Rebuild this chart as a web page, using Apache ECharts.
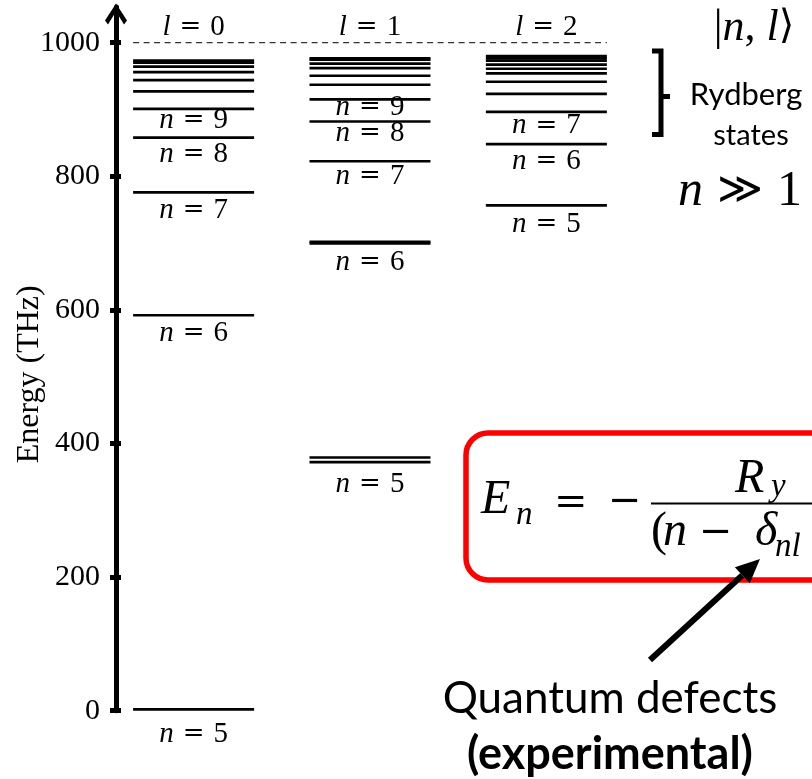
<!DOCTYPE html>
<html>
<head>
<meta charset="utf-8">
<script src="https://cdn.jsdelivr.net/npm/echarts@6/dist/echarts.min.js"></script>
<style>
  html, body { margin: 0; padding: 0; background: #fff; }
  #chart { width: 812px; height: 779px; }
</style>
</head>
<body>
<div id="chart"></div>
<script>
// Rubidium energy levels (THz above the 5s ground state), one column per orbital number l.
const tickValues = [0, 200, 400, 600, 800, 1000];
const orbitals = [0, 1, 2];
const ionizationLimit = 1000;

// l = 0 (s states)
const sN = [5, 6, 7, 8, 9, 10, 11, 12, 13, 14, 15];
const sEnergy = [2, 592, 776, 858, 901, 927, 944, 956, 964, 970, 973];
// l = 1 (p states, fine-structure doublets for n = 5 and 6)
const pN = [5, 5, 6, 6, 7, 8, 9, 10, 11, 12, 13, 14, 15];
const pEnergy = [372, 379, 699.5, 702, 822.5, 882, 915, 937, 950.5, 962, 968.5, 974.5, 976.5];
// l = 2 (d states)
const dN = [5, 6, 7, 8, 9, 10, 11, 12, 13, 14, 15];
const dEnergy = [756.5, 848, 896.5, 923.5, 941.5, 954, 961, 967, 973, 976.5, 980];

// principal quantum numbers that get an "n = ..." label in each column
const labelledN = [[5, 6, 7, 8, 9], [5, 6, 7, 8, 9], [5, 6, 7]];

// ---- layout ----
const LEVEL_HALF = 0.343;          // half width of a level bar, in column units
const SERIF = 'Liberation Serif, DejaVu Serif, serif';
const OPS = 'DejaVu Serif, serif';
const SANS = 'Lato, Noto Sans, sans-serif';
// vertical gap (px) between a level bar and the centre of its label
const labelDrop = {
  '0-5': 25, '0-6': 18.5, '0-7': 17.7, '0-8': 16.7, '0-9': 11.3,
  '1-5': 22, '1-6': 18.6, '1-7': 15.4, '1-8': 12, '1-9': 8,
  '2-5': 18.7, '2-6': 17.4, '2-7': 14
};

const columns = [
  { l: 0, n: sN, e: sEnergy },
  { l: 1, n: pN, e: pEnergy },
  { l: 2, n: dN, e: dEnergy }
];

const levelData = [];
const labelData = [];
columns.forEach(function (col, ci) {
  col.e.forEach(function (e, i) { levelData.push([col.l, e, col.n[i]]); });
  labelledN[ci].forEach(function (n) {
    let lowest = Infinity;
    col.n.forEach(function (k, i) { if (k === n) lowest = Math.min(lowest, col.e[i]); });
    labelData.push([col.l, lowest, n]);
  });
});

const chevron = 'path://M11,0 L22,17 L19,21 L11,8 L3,21 L0,17 Z';

// "symbol = value" with an italic symbol and a wide equals sign
const eqRich = function (size) {
  return {
    it: { fontStyle: 'italic', fontFamily: SERIF, fontSize: size, color: '#000' },
    eq: { fontFamily: OPS, fontSize: size - 3, color: '#000', padding: [0, 9, 0, 9] },
    v: { fontFamily: SERIF, fontSize: size, color: '#000' }
  };
};

function renderLevel(params, api) {
  const x = api.value(0), e = api.value(1);
  const a = api.coord([x - LEVEL_HALF, e]);
  const b = api.coord([x + LEVEL_HALF, e]);
  return {
    type: 'line',
    shape: { x1: a[0], y1: a[1], x2: b[0], y2: b[1] },
    style: { stroke: '#000', lineWidth: 2.7 }
  };
}

function renderLabel(params, api) {
  const x = api.value(0), e = api.value(1), n = api.value(2);
  const p = api.coord([x, e]);
  const drop = labelDrop[x + '-' + n] || 16;
  return {
    type: 'text',
    x: p[0],
    y: p[1] + drop,
    style: {
      text: '{it|n}{eq|=}{v|' + n + '}',
      rich: eqRich(29),
      fontFamily: SERIF, fontSize: 29, fill: '#000',
      align: 'center', textAlign: 'center',
      verticalAlign: 'middle', textVerticalAlign: 'middle'
    }
  };
}

function piece(str, x, y, size, family, italic) {
  return {
    type: 'text', x: x, y: y, z: 10,
    style: {
      text: str, fontFamily: family, fontSize: size,
      fontStyle: italic ? 'italic' : 'normal', fill: '#000',
      align: 'left', textAlign: 'left',
      verticalAlign: 'middle', textVerticalAlign: 'middle'
    }
  };
}
// letters placed by their baseline
function mathPiece(str, x, baseline, size, italic) {
  return piece(str, x, baseline - 0.305 * size, size, SERIF, italic);
}
// operators placed by their centre line
function opPiece(str, x, centre, size) {
  return piece(str, x, centre - 1, size, OPS, false);
}

function plainText(str, x, y, size, family, opts) {
  return {
    type: 'text', x: x, y: y, z: 10,
    style: Object.assign({
      text: str, fontFamily: family, fontSize: size, fill: '#000',
      align: 'center', textAlign: 'center',
      verticalAlign: 'middle', textVerticalAlign: 'middle'
    }, opts || {})
  };
}

// arrow pointing at the quantum defect in the formula
function pointer(x0, y0, x1, y1, width, headLen, headHalf) {
  const dx = x1 - x0, dy = y1 - y0, len = Math.hypot(dx, dy);
  const ux = dx / len, uy = dy / len, px = -uy, py = ux;
  const bx = x1 - ux * headLen, by = y1 - uy * headLen;
  return [
    { type: 'line', z: 10, shape: { x1: x0, y1: y0, x2: bx, y2: by },
      style: { stroke: '#000', lineWidth: width } },
    { type: 'polygon', z: 10,
      shape: { points: [[x1, y1], [bx + px * headHalf, by + py * headHalf], [bx - px * headHalf, by - py * headHalf]] },
      style: { fill: '#000' } }
  ];
}

const annotations = [
  // Rydberg bracket
  { type: 'polyline', z: 10, shape: { points: [[652, 51], [661, 51], [661, 134.5], [652, 134.5]] },
    style: { stroke: '#000', lineWidth: 5, fill: null } },
  { type: 'line', z: 10, shape: { x1: 661, y1: 96.5, x2: 670, y2: 96.5 },
    style: { stroke: '#000', lineWidth: 5 } },
  plainText('Rydberg', 746, 95, 31, SANS),
  plainText('states', 751, 136, 29, SANS),
  // state notation
  plainText('{a||}{i|n}{a|, }{i|l}{b|\u27E9}', 754, 28, 44, SERIF, {
    rich: {
      a: { fontFamily: SERIF, fontSize: 44 },
      b: { fontFamily: OPS, fontSize: 40 },
      i: { fontFamily: SERIF, fontSize: 44, fontStyle: 'italic' }
    }
  }),
  plainText('{i|n}{b| \u226B }{a|1}', 740, 192, 48, SERIF, {
    rich: {
      a: { fontFamily: SERIF, fontSize: 50 },
      b: { fontFamily: OPS, fontSize: 44 },
      i: { fontFamily: SERIF, fontSize: 50, fontStyle: 'italic' }
    }
  }),
  // formula box
  { type: 'rect', z: 9, shape: { x: 466, y: 433, width: 420, height: 147, r: 22 },
    style: { fill: null, stroke: '#ff0000', lineWidth: 5.5 } },
  mathPiece('E', 481, 515, 48, true),
  mathPiece('n', 516, 525, 33, true),
  opPiece('=', 554, 505, 40),
  opPiece('\u2212', 608, 504, 40),
  { type: 'line', z: 10, shape: { x1: 651, y1: 503.5, x2: 850, y2: 503.5 },
    style: { stroke: '#000', lineWidth: 2 } },
  mathPiece('R', 735, 494, 48, true),
  mathPiece('y', 771, 497, 33, true),
  mathPiece('(', 651, 547, 48, false),
  mathPiece('n', 663, 547, 48, true),
  opPiece('\u2212', 699, 535, 40),
  mathPiece('\u03B4', 755, 547, 48, true),
  mathPiece('nl', 775, 557, 33, true),
  // caption
  plainText('Quantum defects', 610, 699, 44, SANS),
  plainText('(experimental)', 610, 754, 45, SANS, { fontWeight: 'bold' })
].concat(pointer(650, 660, 760, 559, 6, 24, 11));

const chart = echarts.init(document.getElementById('chart'), null, { renderer: 'canvas' });
chart.setOption({
  animation: false,
  backgroundColor: '#fff',
  grid: { left: 116, right: 0, top: 7, bottom: 68.3, containLabel: false, outerBoundsMode: 'none' },
  xAxis: {
    type: 'value', min: -0.44, max: 3.506, position: 'top',
    axisLine: { show: false, onZero: false },
    axisTick: { show: false },
    splitLine: { show: false },
    axisLabel: {
      inside: true, margin: 6, customValues: orbitals,
      formatter: function (v) { return '{it|l}{eq|=}{v|' + v + '}'; },
      fontFamily: SERIF, fontSize: 29, color: '#000',
      rich: eqRich(29)
    }
  },
  yAxis: [
    {
      type: 'value', min: 0, max: 1053.4, interval: 200, position: 'left',
      name: 'Energy (THz)', nameLocation: 'middle', nameGap: 70, nameRotate: 90,
      nameMoveOverlap: false,
      nameTextStyle: { fontFamily: SERIF, fontSize: 32, color: '#000', padding: [0, 31, 0, 0] },
      axisLine: {
        show: true, onZero: false,
        symbol: ['none', chevron], symbolSize: [22, 21], symbolOffset: [0, -7],
        lineStyle: { color: '#000', width: 5 }
      },
      axisTick: { show: true, inside: false, length: 6, customValues: tickValues,
        lineStyle: { color: '#000', width: 5 } },
      axisLabel: { customValues: tickValues, margin: 16, fontFamily: SERIF, fontSize: 30, color: '#000',
        formatter: function (v) { return String(v); } },
      splitLine: { show: false }
    },
    {
      type: 'value', min: 0, max: 1053.4, interval: 200, position: 'left',
      axisLine: { show: false, onZero: false },
      axisTick: { show: true, inside: true, length: 5, customValues: tickValues,
        lineStyle: { color: '#000', width: 5 } },
      axisLabel: { show: false },
      splitLine: { show: false }
    }
  ],
  series: [
    {
      name: 'ionization limit', type: 'line', silent: true, symbol: 'none',
      data: [[-LEVEL_HALF, ionizationLimit], [2 + LEVEL_HALF, ionizationLimit]],
      lineStyle: { color: '#333', width: 1.2, type: [6, 4.5] }
    },
    {
      name: 'levels', type: 'custom', silent: true,
      renderItem: renderLevel, data: levelData,
      encode: { x: 0, y: 1 }
    },
    {
      name: 'labels', type: 'custom', silent: true,
      renderItem: renderLabel, data: labelData,
      encode: { x: 0, y: 1 }
    }
  ],
  graphic: { elements: annotations }
});
</script>
</body>
</html>
